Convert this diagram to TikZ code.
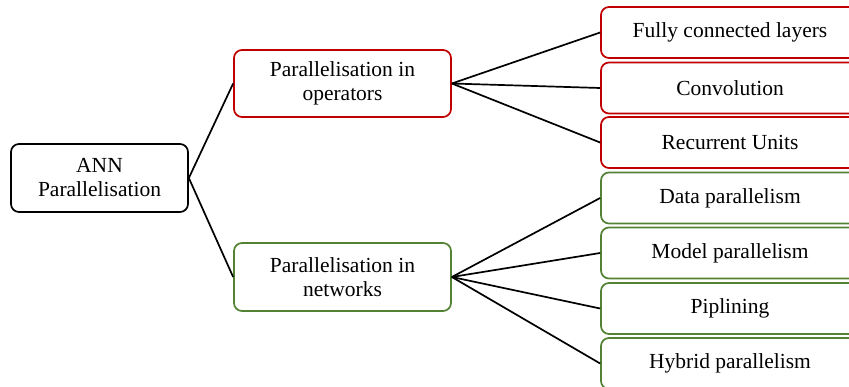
\documentclass[tikz,border=0pt]{standalone}
\usepackage{fontspec}
\setmainfont{Liberation Serif}
\definecolor{redline}{RGB}{192,0,0}
\definecolor{greenline}{RGB}{84,130,53}
\begin{document}
\begin{tikzpicture}[x=1pt,y=-1pt,
  base/.style={draw, fill=white, rounded corners=8pt, line width=1.7pt, inner sep=0pt,
    align=center, font=\fontsize{21.5}{24}\selectfont},
  rootbox/.style={base, draw=black, minimum width=177pt, minimum height=68pt},
  midred/.style={base, draw=redline, minimum width=217pt, minimum height=67pt},
  midgreen/.style={base, draw=greenline, minimum width=217pt, minimum height=68pt},
  leafred/.style={base, draw=redline, minimum width=258pt, minimum height=51pt},
  leafgreen/.style={base, draw=greenline, minimum width=258pt, minimum height=51pt},
  conn/.style={draw=black, line width=1.7pt}]
\useasboundingbox (0,0) rectangle (849,387);
\clip (0,0) rectangle (849,387);
\node[rootbox] (root) at (99.5,178) {ANN\\Parallelisation};
\node[midred] (ops) at (342.5,83.5) {Parallelisation in\\operators};
\node[midgreen] (net) at (342.5,277) {Parallelisation in\\networks};
\node[leafred] (fc) at (730,32.5) {Fully connected layers};
\node[leafred] (conv) at (730,88) {Convolution};
\node[leafred] (rnn) at (730,142.5) {Recurrent Units};
\node[leafgreen] (data) at (730,198) {Data parallelism};
\node[leafgreen] (model) at (730,253) {Model parallelism};
\node[leafgreen] (pipe) at (730,308.5) {Piplining};
\node[leafgreen] (hyb) at (730,363.5) {Hybrid parallelism};
\draw[conn] (root.east) -- (ops.west);
\draw[conn] (root.east) -- (net.west);
\foreach \n in {fc,conv,rnn} \draw[conn] (ops.east) -- (\n.west);
\foreach \n in {data,model,pipe,hyb} \draw[conn] (net.east) -- (\n.west);
\end{tikzpicture}
\end{document}
